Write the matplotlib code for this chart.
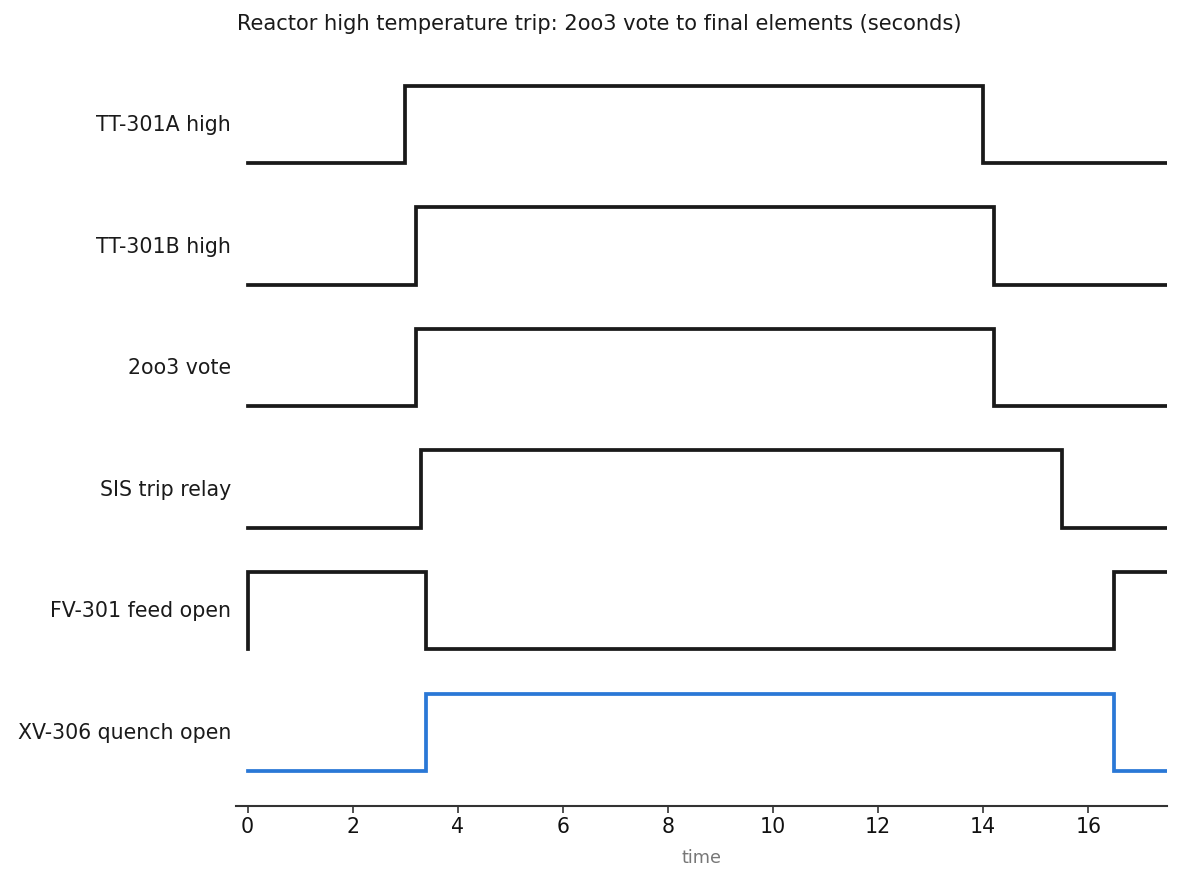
import matplotlib
matplotlib.use("Agg")
import matplotlib.pyplot as plt

# ---- data ----
signal_names = ["TT-301A high", "TT-301B high", "2oo3 vote",
                "SIS trip relay", "FV-301 feed open", "XV-306 quench open"]
tt301a_t = [0, 3.0, 14.0, 17.5]
tt301a_v = [0, 1, 0, 0]
tt301b_t = [0, 3.2, 14.2, 17.5]
tt301b_v = [0, 1, 0, 0]
vote_t = [0, 3.2, 14.2, 17.5]
vote_v = [0, 1, 0, 0]
sis_t = [0, 3.3, 15.5, 17.5]
sis_v = [0, 1, 0, 0]
fv301_t = [0, 0, 3.4, 16.5, 17.5]
fv301_v = [0, 1, 0, 1, 1]
xv306_t = [0, 3.4, 16.5, 17.5]
xv306_v = [0, 1, 0, 0]
x_ticks = [0, 2, 4, 6, 8, 10, 12, 14, 16]
title = "Reactor high temperature trip: 2oo3 vote to final elements (seconds)"

series = [(tt301a_t, tt301a_v), (tt301b_t, tt301b_v), (vote_t, vote_v),
          (sis_t, sis_v), (fv301_t, fv301_v), (xv306_t, xv306_v)]
colors = ["#1a1a1a"] * 5 + ["#2a78d6"]

W, H = 1182, 883
fig = plt.figure(figsize=(W / 100, H / 100), dpi=100)
ax_left, ax_right, ax_top, ax_bottom = 236, 1167, 50, 805.5
ax = fig.add_axes([ax_left / W, 1 - ax_bottom / H,
                   (ax_right - ax_left) / W, (ax_bottom - ax_top) / H])

n = len(signal_names)
amp = 0.635
for i, ((t, v), c) in enumerate(zip(series, colors)):
    base = n - 1 - i
    ax.step(t, [base + amp * val for val in v], where="post",
            color=c, lw=2.7, solid_joinstyle="miter")

ax.set_xlim(-0.22, 17.5)
ax.set_ylim(-0.286, n - 1 + (163 - ax_top) / 121.5)
ax.set_yticks([n - 1 - i + amp / 2 + 0.01 for i in range(n)])
ax.set_yticklabels(signal_names, fontsize=14.8, color="#1a1a1a")
ax.tick_params(axis="y", length=0, pad=3.6)
ax.set_xticks(x_ticks)
ax.set_xticklabels([str(x) for x in x_ticks], fontsize=14.8, color="#111111")
ax.tick_params(axis="x", length=5, width=1.2, color="#333333", pad=3.5)
for s in ["left", "right", "top"]:
    ax.spines[s].set_visible(False)
ax.spines["bottom"].set_linewidth(1.5)
ax.spines["bottom"].set_color("#333333")
ax.set_xlabel("time", fontsize=12.8, color="#777777", labelpad=8.5)

fig.text(237 / W, 1 - 30 / H, title, fontsize=15.1, color="#1a1a1a",
         ha="left", va="baseline")

fig.savefig("out.png", dpi=100)
